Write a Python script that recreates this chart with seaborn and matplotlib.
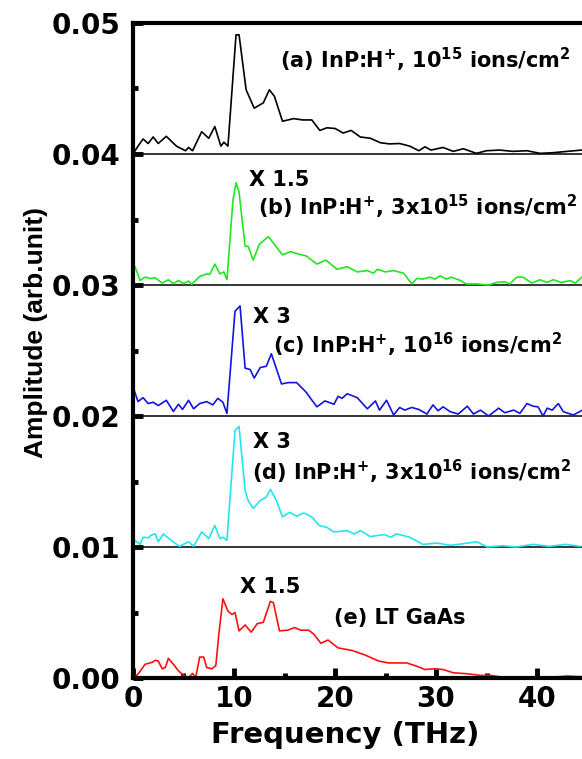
# THz amplitude spectra, offset traces
import pandas as pd
import seaborn as sns
import matplotlib.pyplot as plt

# baselines of each trace
offsets = [0.04, 0.03, 0.02, 0.01, 0.00]
colors = ["black", "#22e622", "#1414e0", "#22e5f0", "#ff1010"]
names = ["a", "b", "c", "d", "e"]

# frequency (THz) and height above baseline (x 1e-3)
a_x = [0, 0.5, 1.0, 1.5, 2.0, 2.5, 3.3, 4.3, 5.2, 5.5, 5.9, 6.8, 7.5, 8.1, 8.7, 9.0, 9.4, 10.2, 10.5,
       11.2, 12.0, 12.9, 13.5, 14.0, 14.8, 15.9, 16.8, 17.7, 18.5, 19.2, 20.0, 20.8, 21.6, 22.5, 23.5,
       24.5, 25.4, 26.4, 27.4, 28.3, 28.9, 29.5, 30.7, 31.7, 32.7, 34.0, 35.0, 36.3, 37.6, 39.0, 40.3,
       41.6, 43.0, 44.4]
a_h = [0, 0.6, 1.15, 0.8, 1.3, 0.8, 1.35, 0.6, 0.25, 0.5, 0.25, 1.7, 1.2, 2.1, 0.6, 0.9, 0.6, 9.1, 9.1,
       4.9, 3.5, 3.9, 4.9, 4.4, 2.5, 2.7, 2.6, 2.6, 1.8, 2.0, 1.95, 1.6, 1.8, 1.3, 1.2,
       0.86, 0.77, 0.8, 0.6, 0.25, 0.55, 0.3, 0.5, 0.2, 0.4, 0.05, 0.25, 0.3, 0.2, 0.25, 0.05,
       0.1, 0.2, 0.3]

b_x = [0, 0.2, 0.7, 1.2, 1.7, 2.2, 2.9, 3.5, 4.0, 4.5, 5.0, 5.5, 5.8, 6.6, 7.3, 7.6, 8.1, 8.6, 9.0, 9.3,
       9.9, 10.2, 10.5, 11.1, 11.4, 11.9, 12.5, 13.4, 13.9, 14.8, 15.6, 16.2, 17.2, 18.2, 19.1, 20.2,
       21.2, 22.2, 23.2, 23.8, 24.2, 25.0, 25.8, 26.8, 27.6, 28.1, 28.7, 29.4, 29.9, 30.4, 31.0, 31.5,
       32.4, 33.0, 34.0, 35.2, 36.0, 36.8, 37.3, 38.0, 38.6, 39.5, 40.3, 41.0, 41.6, 42.4, 43.3, 43.8, 44.5]
b_h = [0.8, 1.4, 0.35, 0.6, 0.5, 0.55, 0.15, 0.4, 0.1, 0.35, 0.1, 0.3, 0.05, 0.65, 0.85, 0.8, 1.6, 0.85, 1.0, 0.4,
       6.5, 7.8, 7.1, 2.95, 2.95, 1.9, 3.1, 3.7, 3.2, 2.3, 2.55, 2.4, 2.2, 1.6, 1.9, 1.2,
       1.4, 1.0, 1.1, 0.9, 1.2, 1.0, 1.1, 0.9, 0.08, 0.5, 0.45, 0.6, 0.45, 0.7, 0.45, 0.6,
       0.35, 0.08, 0.08, 0.0, 0.2, 0.25, 0.08, 0.6, 0.6, 0.15, 0.4, 0.2, 0.4, 0.2, 0.33, 0.15, 0.65]

c_x = [0, 0.1, 0.5, 1.0, 1.5, 2.0, 2.5, 3.3, 4.0, 4.5, 4.9, 5.5, 6.0, 6.6, 7.3, 7.9, 8.4, 8.9, 9.3,
       10.1, 10.6, 11.1, 11.6, 12.0, 12.6, 13.2, 13.7, 14.7, 15.4, 16.2, 17.1, 18.2, 19.0, 19.9, 20.3,
       20.7, 21.2, 22.2, 23.2, 24.0, 24.4, 25.1, 25.8, 26.4, 26.9, 27.6, 28.3, 29.1, 29.7, 30.2, 30.7,
       31.4, 32.2, 33.1, 33.7, 34.4, 35.2, 36.2, 36.8, 37.7, 38.3, 39.0, 39.6, 40.1, 40.6, 41.0, 41.5,
       42.1, 42.6, 43.1, 43.6, 44.5]
c_h = [1.2, 2.0, 1.1, 1.4, 0.95, 1.05, 0.8, 1.2, 0.35, 0.9, 0.5, 1.2, 0.55, 0.95, 1.1, 0.85, 1.35, 1.05, 0.2,
       8.0, 8.4, 3.65, 3.55, 2.9, 3.7, 3.8, 4.75, 2.45, 2.55, 2.55, 1.85, 0.7, 1.15, 0.9, 1.5,
       1.35, 1.7, 1.4, 0.55, 1.15, 0.45, 1.2, 0.08, 0.65, 0.45, 0.65, 0.5, 0.15, 0.85, 0.4, 0.7,
       0.33, 0.15, 0.75, 0.15, 0.45, 0.0, 0.6, 0.25, 0.45, 0.2, 0.95, 0.75, 0.7, 0.0, 0.6, 0.45,
       0.95, 0.33, 0.2, 0.08, 0.45]

d_x = [0, 0.2, 0.7, 1.0, 1.5, 1.8, 2.2, 2.5, 3.0, 3.7, 4.6, 5.5, 6.0, 6.8, 7.5, 8.1, 8.6, 8.9, 9.3,
       10.1, 10.5, 11.1, 11.4, 11.9, 12.6, 13.2, 13.6, 14.2, 14.8, 15.5, 16.2, 16.9, 17.7, 18.4, 19.2,
       19.9, 21.2, 21.9, 22.5, 23.5, 24.9, 25.5, 26.1, 27.4, 28.7, 30.1, 31.4, 32.7, 34.0, 35.1, 36.6,
       37.9, 39.6, 41.2, 42.8, 44.3]
d_h = [0.25, 0.5, 0.2, 0.75, 0.7, 0.9, 1.0, 0.4, 1.0, 0.55, 0.05, 0.4, 0.05, 1.15, 0.65, 1.65, 0.65, 0.75, 0.5,
       8.9, 9.2, 4.3, 3.55, 2.95, 3.55, 3.8, 4.4, 3.55, 2.3, 2.65, 2.35, 2.6, 2.3, 1.65, 1.5,
       1.15, 1.25, 1.0, 1.25, 0.8, 0.95, 0.75, 1.0, 0.75, 0.2, 0.3, 0.13, 0.25, 0.4, 0.0, 0.1,
       0.0, 0.2, 0.05, 0.2, 0.05]

e_x = [0, 0.5, 1.2, 1.9, 2.2, 2.5, 2.9, 3.2, 3.5, 4.0, 4.5, 5.0, 5.5, 5.9, 6.2, 6.6, 7.0, 7.3, 7.8, 8.2,
       8.5, 8.9, 9.4, 9.8, 10.1, 10.5, 11.1, 11.7, 12.3, 12.9, 13.6, 13.9, 14.5, 15.3, 16.0, 16.6, 17.4,
       17.9, 18.6, 19.3, 20.3, 21.7, 23.0, 24.3, 25.3, 27.1, 28.1, 28.9, 29.7, 30.7, 31.7, 33.0, 34.4,
       35.4, 36.7, 38.4, 39.7, 41.3, 43.0, 44.4]
e_h = [0, 0.3, 1.05, 1.2, 1.35, 1.3, 0.7, 0.8, 1.5, 1.05, 0.55, 0.2, 0.05, 0.35, 0.0, 1.6, 1.6, 0.8, 0.7, 0.95,
       3.35, 6.05, 5.1, 4.85, 5.0, 3.6, 4.05, 3.5, 4.15, 4.25, 5.85, 5.75, 3.6, 3.65, 3.85, 3.65, 3.65,
       3.35, 2.65, 2.9, 2.3, 2.1, 1.75, 1.3, 1.15, 1.15, 0.9, 0.65, 0.7, 0.65, 0.4, 0.33, 0.2,
       0.2, 0.05, 0.05, 0.1, 0.05, 0.15, 0.1]

labels = [r"(a) InP:H$^{+}$, 10$^{15}$ ions/cm$^{2}$",
          r"(b) InP:H$^{+}$, 3x10$^{15}$ ions/cm$^{2}$",
          r"(c) InP:H$^{+}$, 10$^{16}$ ions/cm$^{2}$",
          r"(d) InP:H$^{+}$, 3x10$^{16}$ ions/cm$^{2}$",
          "(e) LT GaAs"]
scales = ["", "X 1.5", "X 3", "X 3", "X 1.5"]

# build long table
frames = []
for n, off, xs, hs in zip(names, offsets, [a_x, b_x, c_x, d_x, e_x], [a_h, b_h, c_h, d_h, e_h]):
    frames.append(pd.DataFrame({"freq": xs, "amp": [off + h / 1000 for h in hs], "sample": n}))
df = pd.concat(frames, ignore_index=True)

sns.set_style("ticks", {"axes.edgecolor": "black", "text.color": "black", "axes.labelcolor": "black",
                        "xtick.color": "black", "ytick.color": "black"})
plt.rcParams["font.family"] = ["DejaVu Sans"]
plt.rcParams["font.weight"] = "bold"
plt.rcParams["mathtext.fontset"] = "custom"
plt.rcParams["mathtext.rm"] = "DejaVu Sans:bold"
plt.rcParams["mathtext.bf"] = "DejaVu Sans:bold"
plt.rcParams["mathtext.default"] = "bf"

fig = plt.figure(figsize=(5.82, 7.59), dpi=100)
ax = fig.add_axes([0.2285, 0.1067, 0.7715, 0.863])

# baselines
for off in offsets[:-1]:
    ax.axhline(off, color="black", lw=1.1, zorder=1)

sns.lineplot(data=df, x="freq", y="amp", hue="sample", palette=dict(zip(names, colors)),
             estimator=None, sort=False, legend=False, lw=1.2, ax=ax)

ax.set_xlim(0, 44.45)
ax.set_ylim(0, 0.05)
ax.set_xticks([0, 10, 20, 30, 40])
ax.set_xticks([5, 15, 25, 35], minor=True)
ax.set_yticks([0.0, 0.01, 0.02, 0.03, 0.04, 0.05])
ax.set_yticks([0.005, 0.015, 0.025, 0.035, 0.045], minor=True)
ax.set_yticklabels(["0.00", "0.01", "0.02", "0.03", "0.04", "0.05"])

for s in ["left", "bottom", "top"]:
    ax.spines[s].set_linewidth(3)
ax.spines["right"].set_visible(False)
ax.tick_params(which="major", direction="in", length=7, width=3.5, labelsize=20, top=False, right=False)
ax.tick_params(which="minor", direction="in", length=3.5, width=3.5, top=False, right=False)
ax.tick_params(axis="x", pad=5)
ax.tick_params(axis="y", pad=9)

ax.set_xlabel("Frequency (THz)", fontsize=21, fontweight="bold")
ax.set_ylabel("Amplitude (arb.unit)", fontsize=19, fontweight="bold", family=["Liberation Sans", "DejaVu Sans"])
ax.xaxis.set_label_coords(0.473, -0.066)
ax.yaxis.set_label_coords(-0.19, 0.528)

# annotations
lab_pos = [(14.55, 0.0472), (12.4, 0.0360), (13.9, 0.02542), (11.75, 0.01575), (19.85, 0.00456)]
sc_pos = [None, (11.5, 0.0380), (11.85, 0.02758), (11.9, 0.01804), (10.6, 0.00697)]
for txt, p in zip(labels, lab_pos):
    ax.text(p[0], p[1], txt, fontsize=15, fontweight="bold", va="center", ha="left")
for txt, p in zip(scales, sc_pos):
    if p:
        ax.text(p[0], p[1], txt, fontsize=15, fontweight="bold", va="center", ha="left")

plt.savefig("out.png", dpi=100)
